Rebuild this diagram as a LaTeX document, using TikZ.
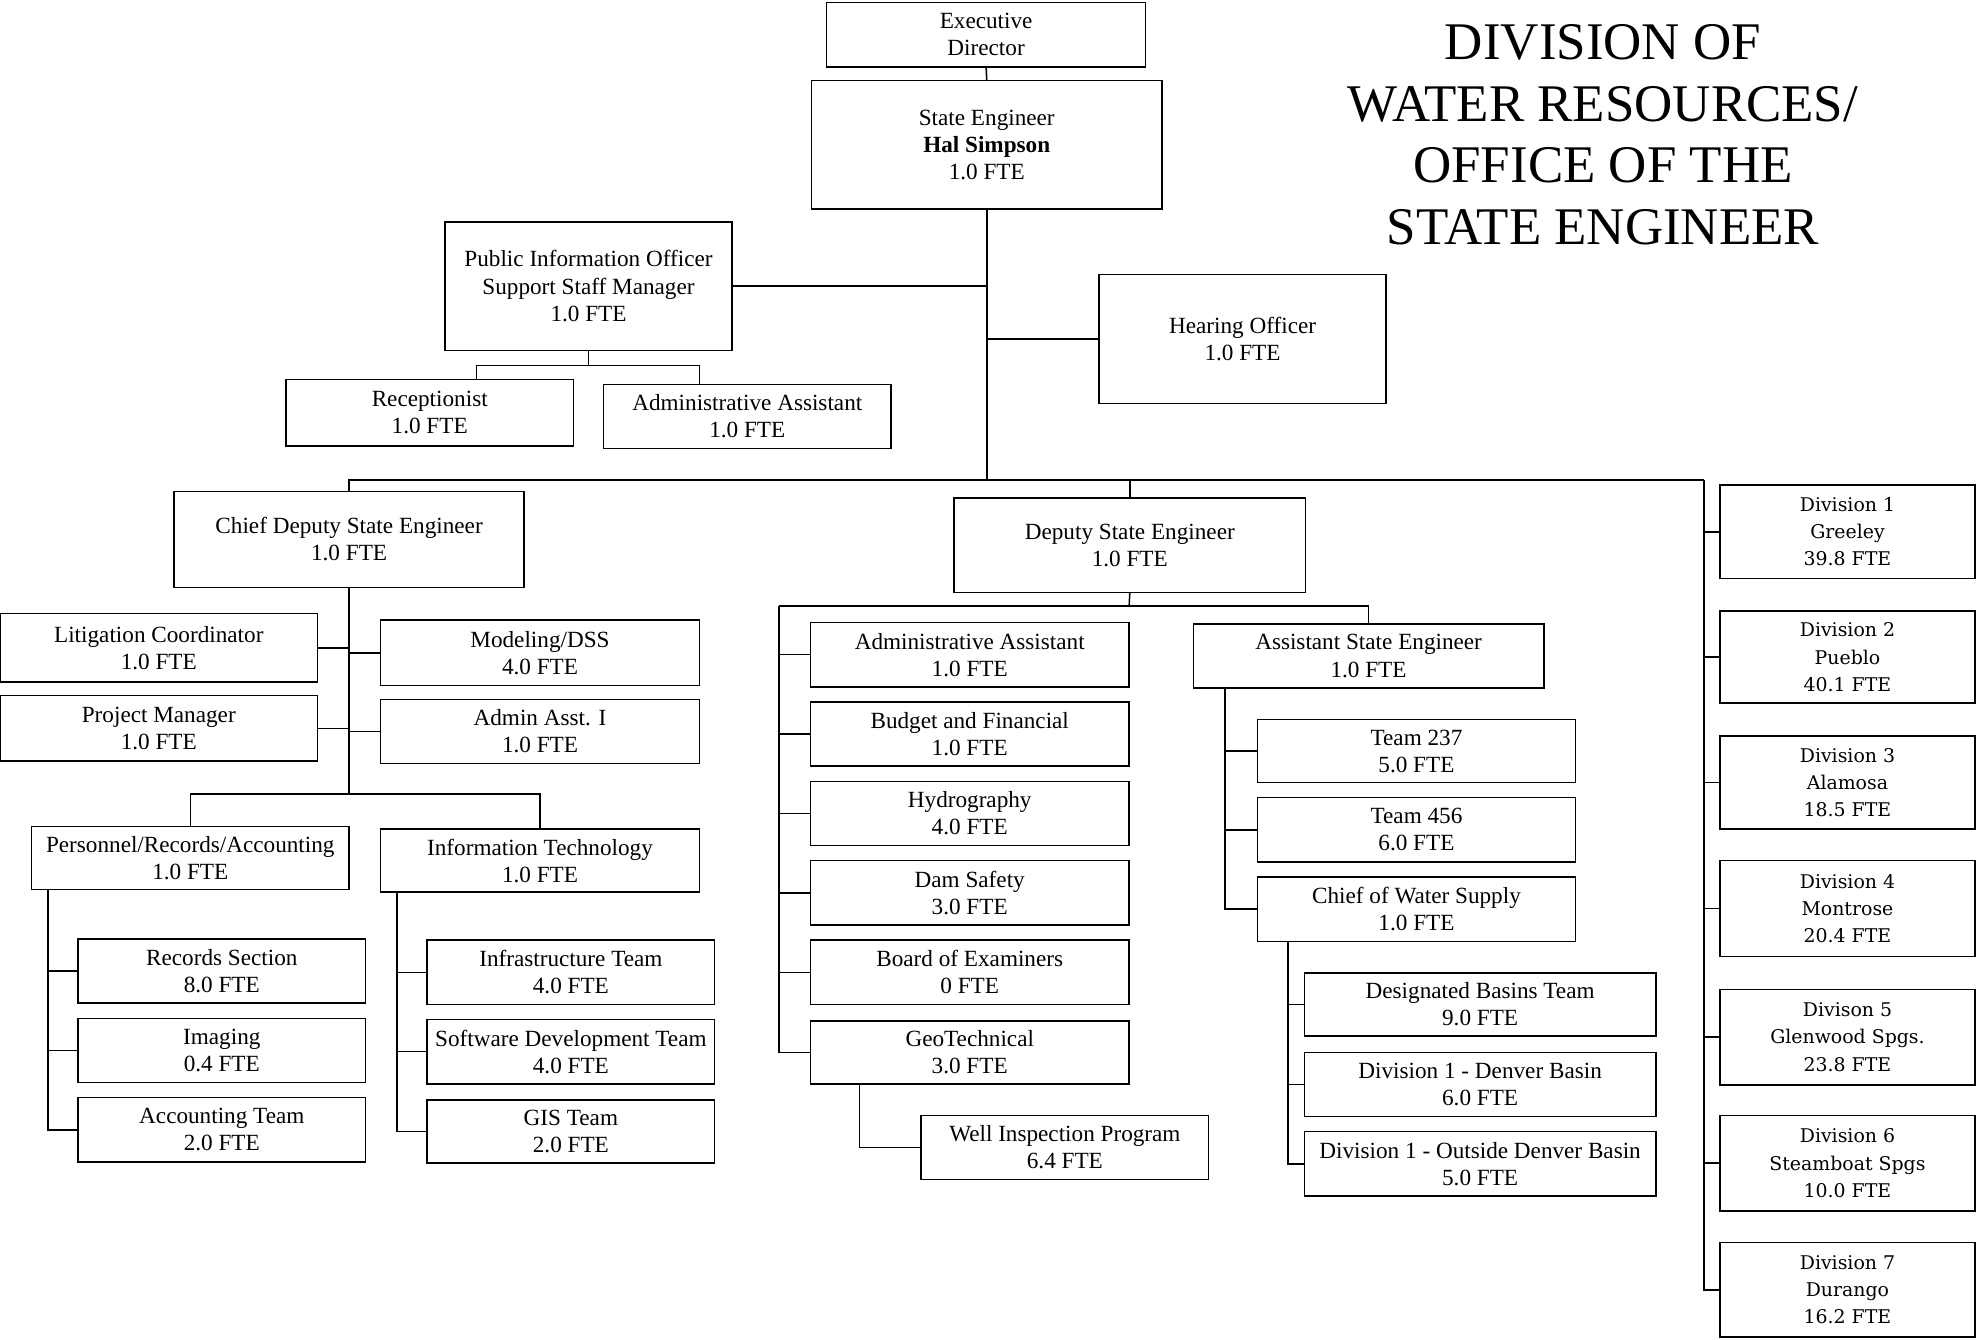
\documentclass[tikz,border=0pt]{standalone}
\usepackage{fontspec}
\setmainfont{Liberation Serif}
\newfontfamily\divfont{DejaVu Serif}
\tikzset{
  box/.style={draw, line width=1.2pt, inner sep=0pt, align=center,
    font=\fontsize{18.4}{21.5}\selectfont},
  divbox/.style={box, font=\divfont\fontsize{15}{21.5}\selectfont},
  conn/.style={line width=1.2pt}
}
\newcommand\bx[7][box]{\node[#1, minimum width={(#5)-(#3)}, minimum height={(#6)-(#4)}] (#2) at ({((#3)+(#5))/2},{((#4)+(#6))/2}) {#7};}
\begin{document}
\begin{tikzpicture}[x=1pt,y=-1pt]
\useasboundingbox (0,0) rectangle (1568,1063);
% title
\node[align=center, font=\fontsize{42}{49}\selectfont, inner sep=0pt] (title) at (1272,107) {DIVISION OF\\WATER RESOURCES/\\OFFICE OF THE\\STATE ENGINEER};
% top
\bx{exec}{656}{2}{909}{53}{Executive\\Director}
\bx{state}{644}{64}{922}{166}{State Engineer\\\textbf{Hal Simpson}\\1.0 FTE}
\bx{pio}{353}{176}{581}{278}{Public Information Officer\\Support Staff Manager\\1.0 FTE}
\bx{rcp}{227}{301}{455}{354}{Receptionist\\1.0 FTE}
\bx{aaa}{479}{305}{707}{356}{Administrative Assistant\\1.0 FTE}
\bx{ho}{872}{218}{1100}{320}{Hearing Officer\\1.0 FTE}
% chief deputy branch
\bx{cdse}{138}{390}{416}{466}{Chief Deputy State Engineer\\1.0 FTE}
\bx{lit}{0}{487}{252}{541}{Litigation Coordinator\\1.0 FTE}
\bx{mod}{302}{492}{555}{544}{Modeling/DSS\\4.0 FTE}
\bx{pm}{0}{552}{252}{604}{Project Manager\\1.0 FTE}
\bx{aai}{302}{555}{555}{606}{Admin Asst. I\\1.0 FTE}
\bx{pra}{25}{656}{277}{706}{Personnel/Records/Accounting\\1.0 FTE}
\bx{it}{302}{658}{555}{708}{Information Technology\\1.0 FTE}
\bx{rec}{62}{745}{290}{796}{Records Section\\8.0 FTE}
\bx{img}{62}{808}{290}{859}{Imaging\\0.4 FTE}
\bx{acc}{62}{871}{290}{922}{Accounting Team\\2.0 FTE}
\bx{inf}{339}{746}{567}{797}{Infrastructure Team\\4.0 FTE}
\bx{sdt}{339}{809}{567}{860}{Software Development Team\\4.0 FTE}
\bx{gis}{339}{873}{567}{923}{GIS Team\\2.0 FTE}
% deputy branch
\bx{dse}{757}{395}{1036}{470}{Deputy State Engineer\\1.0 FTE}
\bx{daa}{643}{494}{896}{545}{Administrative Assistant\\1.0 FTE}
\bx{bud}{643}{557}{896}{608}{Budget and Financial\\1.0 FTE}
\bx{hyd}{643}{620}{896}{671}{Hydrography\\4.0 FTE}
\bx{dam}{643}{683}{896}{734}{Dam Safety\\3.0 FTE}
\bx{boe}{643}{746}{896}{797}{Board of Examiners\\0 FTE}
\bx{geo}{643}{810}{896}{860}{GeoTechnical\\3.0 FTE}
\bx{wip}{731}{885}{959}{936}{Well Inspection Program\\6.4 FTE}
\bx{ase}{947}{495}{1225}{546}{Assistant State Engineer\\1.0 FTE}
\bx{tA}{998}{571}{1250}{621}{Team 237\\5.0 FTE}
\bx{tB}{998}{633}{1250}{684}{Team 456\\6.0 FTE}
\bx{cws}{998}{696}{1250}{747}{Chief of Water Supply\\1.0 FTE}
\bx{dbt}{1035}{772}{1314}{822}{Designated Basins Team\\9.0 FTE}
\bx{ddb}{1035}{835}{1314}{886}{Division 1 - Denver Basin\\6.0 FTE}
\bx{odb}{1035}{898}{1314}{949}{Division 1 - Outside Denver Basin\\5.0 FTE}
% divisions
\bx[divbox]{dA}{1365}{385}{1567}{459}{Division 1\\Greeley\\39.8 FTE}
\bx[divbox]{dB}{1365}{485}{1567}{558}{Division 2\\Pueblo\\40.1 FTE}
\bx[divbox]{dC}{1365}{584}{1567}{658}{Division 3\\Alamosa\\18.5 FTE}
\bx[divbox]{dD}{1365}{683}{1567}{759}{Division 4\\Montrose\\20.4 FTE}
\bx[divbox]{dE}{1365}{785}{1567}{861}{Divison 5\\Glenwood Spgs.\\23.8 FTE}
\bx[divbox]{dF}{1365}{885}{1567}{961}{Division 6\\Steamboat Spgs\\10.0 FTE}
\bx[divbox]{dG}{1365}{986}{1567}{1061}{Division 7\\Durango\\16.2 FTE}
% helper coordinates
\coordinate (bus) at (0,381);
\coordinate (busR) at (1352,381);
\coordinate (pj) at (467,290);
\coordinate (pjL) at (378,290);
\coordinate (pjR) at (555,290);
\coordinate (cj) at (277,630);
\coordinate (dj) at (896,481);
\coordinate (djL) at (618,481);
\coordinate (praL) at (38,0);
\coordinate (itL) at (315,0);
\coordinate (aseL) at (972,0);
\coordinate (geoL) at (682,0);
\coordinate (cwsL) at (1022,0);
% connectors
\draw[conn] (exec.south) -- (state.north);
\draw[conn] (state.south) -- (state.south |- bus);
\draw[conn] (pio.east) -- (pio.east -| state.south);
\draw[conn] (ho.west) -- (ho.west -| state.south);
\draw[conn] (pio.south) -- (pj);
\draw[conn] (pjL |- rcp.north) -- (pjL) -- (pjR) -- (pjR |- aaa.north);
\draw[conn] (cdse.north) |- (busR);
\draw[conn] (dse.north) -- (dse.north |- bus);
\foreach \d in {dA,dB,dC,dD,dE,dF,dG} \draw[conn] (busR) |- (\d.west);
% chief deputy
\draw[conn] (cdse.south) -- (cj);
\draw[conn] (lit.east) -- (lit.east -| cj);
\draw[conn] (pm.east) -- (pm.east -| cj);
\draw[conn] (mod.west) -- (mod.west -| cj);
\draw[conn] (aai.west) -- (aai.west -| cj);
\draw[conn] (pra.north) |- (cj) -| (it.north);
\foreach \d in {rec,img,acc} \draw[conn] (pra.south -| praL) |- (\d.west);
\foreach \d in {inf,sdt,gis} \draw[conn] (it.south -| itL) |- (\d.west);
% deputy
\draw[conn] (dse.south) -- (dj);
\draw[conn] (djL) -| (ase.north);
\foreach \d in {daa,bud,hyd,dam,boe,geo} \draw[conn] (djL) |- (\d.west);
\foreach \d in {tA,tB,cws} \draw[conn] (ase.south -| aseL) |- (\d.west);
\draw[conn] (geo.south -| geoL) |- (wip.west);
\foreach \d in {dbt,ddb,odb} \draw[conn] (cws.south -| cwsL) |- (\d.west);
\end{tikzpicture}
\end{document}
